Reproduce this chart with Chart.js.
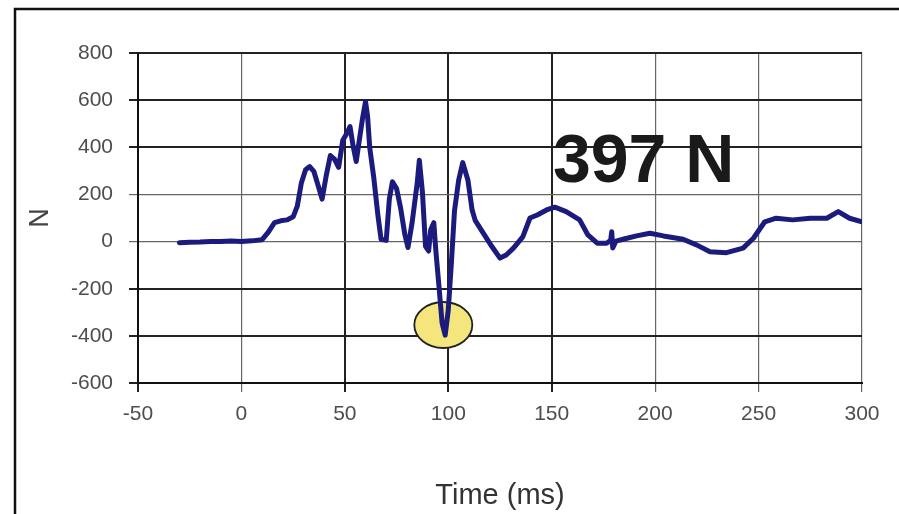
<!DOCTYPE html>
<html>
<head>
<meta charset="utf-8">
<title>Force vs time</title>
<script src="https://cdn.jsdelivr.net/npm/chart.js@4/dist/chart.umd.min.js"></script>
<style>
  html, body { margin: 0; padding: 0; background: #fff; }
  #wrap { width: 899px; height: 514px; }
</style>
</head>
<body>
<div id="wrap"><canvas id="mycanvas" width="899" height="514"></canvas></div>
<script>
// time (ms) and force (N)
var timeMs = [-30, -25, -20, -15, -10, -5, 0, 5, 10, 13, 16, 19, 22, 25, 27, 29, 31, 33, 35, 37,
  39, 41, 43, 45, 47, 49, 51, 52.5, 54, 55.5, 57, 58.5, 60, 61, 62, 64, 66, 67.5, 70, 71.5,
  73, 75, 77, 79, 80.5, 82.5, 85, 86, 87.5, 89, 90.5, 91.5, 93, 94, 95.5, 97, 98.5, 100, 101.5, 103,
  105, 107, 109.5, 111.5, 113, 117, 121, 125, 128, 131.5, 136, 139.5, 143, 147.5, 151.5, 157, 163.5, 167.5, 172, 176.5,
  178.5, 179, 179.5, 181, 184.5, 191, 197.5, 204, 213.5, 220, 226.5, 234.5, 242.5, 247.5, 253, 258.5, 266.5, 275, 283, 288.5,
  294, 300];
var forceN = [-5, -3, -2, 0, 0, 2, 0, 3, 8, 40, 80, 88, 92, 105, 150, 250, 305, 318, 298, 240,
  180, 280, 365, 350, 315, 430, 460, 488, 405, 340, 430, 520, 594, 530, 400, 270, 110, 10, 5, 180,
  254, 225, 140, 30, -25, 80, 250, 345, 210, -20, -40, 50, 80, -40, -190, -345, -397, -290, -90, 130,
  260, 335, 260, 135, 90, 35, -20, -70, -57, -28, 20, 100, 113, 134, 146, 127, 92, 28, -7, -7,
  5, 42, -27, 2, 10, 24, 35, 24, 10, -14, -43, -47, -28, 14, 84, 99, 92, 99, 99, 127,
  99, 84];

var xTicks = [-50, 0, 50, 100, 150, 200, 250, 300];
var yTicks = [800, 600, 400, 200, 0, -200, -400, -600];

// marked minimum and its label
var peakMark = { t: 97.6, n: -354 };
var peakLabel = { text: '397 N', t: 150.6, n: 253 };

var points = [];
for (var i = 0; i < timeMs.length; i++) {
  points.push({ x: timeMs[i], y: forceN[i] });
}

function gridColor(ctx) {
  var v = ctx.tick ? ctx.tick.value : null;
  return (v === 200 || v === 0 || v === 250 || v === 300) ? '#666' : '#222';
}
function gridWidth(ctx) {
  var v = ctx.tick ? ctx.tick.value : null;
  return (v === 200 || v === 0 || v === 250 || v === 300) ? 1.2 : 2;
}

var extras = {
  id: 'extras',
  beforeDatasetsDraw: function(chart) {
    var c = chart.ctx;
    var px = chart.scales.x.getPixelForValue(peakMark.t);
    var py = chart.scales.y.getPixelForValue(peakMark.n);
    c.save();
    c.beginPath();
    c.ellipse(px, py, 29, 23, 0, 0, Math.PI * 2);
    c.fillStyle = '#f4e67c';
    c.fill();
    c.lineWidth = 1.8;
    c.strokeStyle = '#222';
    c.stroke();
    c.restore();
  },
  afterDraw: function(chart) {
    var c = chart.ctx;
    c.save();
    // outer frame
    c.strokeStyle = '#111';
    c.lineWidth = 2.5;
    c.beginPath();
    c.moveTo(15, 514);
    c.lineTo(15, 9);
    c.lineTo(899, 9);
    c.stroke();
    // big label
    var lx = chart.scales.x.getPixelForValue(peakLabel.t);
    var ly = chart.scales.y.getPixelForValue(peakLabel.n);
    c.font = 'bold 68px "Liberation Sans", Arial, sans-serif';
    c.fillStyle = '#1a1a1a';
    c.textAlign = 'left';
    c.textBaseline = 'alphabetic';
    c.fillText(peakLabel.text, lx, ly);
    c.restore();
  }
};

var ctx = document.getElementById('mycanvas');

var lineChart = new Chart(ctx, {
  type: 'line',
  data: {
    datasets: [{
      label: 'Force',
      data: points,
      borderColor: '#1b1b7d',
      borderWidth: 5,
      borderJoinStyle: 'round',
      borderCapStyle: 'round',
      pointRadius: 0,
      tension: 0,
      fill: false
    }]
  },
  options: {
    responsive: false,
    animation: false,
    layout: { padding: { top: 53, right: 37, left: 0, bottom: 0 } },
    plugins: { legend: { display: false }, tooltip: { enabled: false } },
    scales: {
      x: {
        type: 'linear',
        min: -50,
        max: 300,
        afterBuildTicks: function(scale) {
          scale.ticks = xTicks.map(function(v) { return { value: v }; });
        },
        afterFit: function(scale) { scale.height = 131; },
        ticks: {
          autoSkip: false,
          maxRotation: 0,
          padding: 10,
          color: '#4d4d4d',
          font: { family: '"Liberation Sans", Arial, sans-serif', size: 21 }
        },
        grid: { color: gridColor, lineWidth: gridWidth, tickLength: 9 },
        border: { color: '#111', width: 2 },
        title: {
          display: true,
          text: 'Time (ms)',
          color: '#333',
          font: { family: '"Liberation Sans", Arial, sans-serif', size: 29 },
          padding: { top: 0, bottom: 1 }
        }
      },
      y: {
        min: -600,
        max: 800,
        afterBuildTicks: function(scale) {
          scale.ticks = yTicks.slice().reverse().map(function(v) { return { value: v }; });
        },
        afterFit: function(scale) { scale.width = 138; },
        ticks: {
          padding: 16,
          color: '#4d4d4d',
          font: { family: '"Liberation Sans", Arial, sans-serif', size: 21 }
        },
        grid: { color: gridColor, lineWidth: gridWidth, tickLength: 9 },
        border: { color: '#111', width: 2 },
        title: {
          display: true,
          text: 'N',
          color: '#444',
          font: { family: '"Liberation Sans", Arial, sans-serif', size: 27 },
          padding: { top: 24, bottom: 0 }
        }
      }
    }
  },
  plugins: [extras]
});
</script>
</body>
</html>
